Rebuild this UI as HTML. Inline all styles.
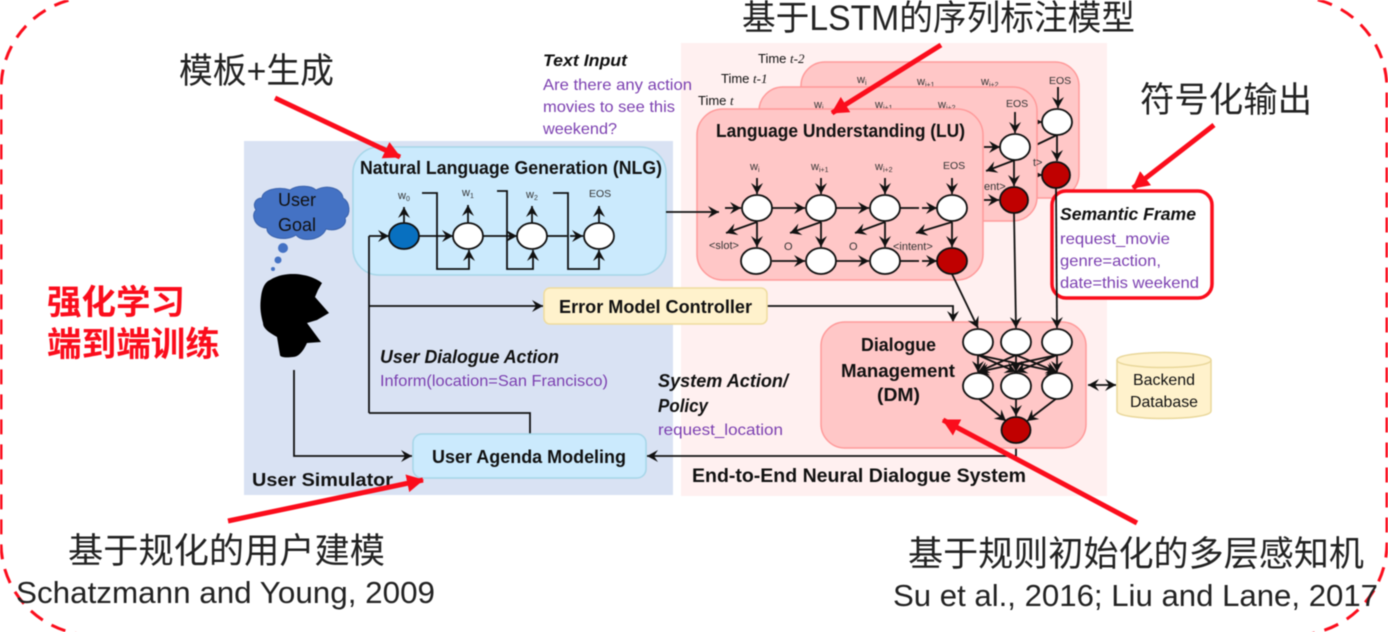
<!DOCTYPE html>
<html><head><meta charset="utf-8">
<style>
html,body{margin:0;padding:0;background:#fff;width:1388px;height:632px;overflow:hidden}
svg{display:block;filter:blur(0.45px)}
text{font-family:"Liberation Sans","Noto Sans CJK SC",sans-serif;fill:#111}
.b{font-weight:bold}.bi{font-weight:bold;font-style:italic}
.p{fill:#7b3fb0}
.cn{font-size:35px;fill:#222}
.en{font-size:31px;fill:#222}
.s{font-size:11px;fill:#333}
.e{font-size:10.5px;fill:#333}
.l{stroke:#111;stroke-width:1.8;fill:none}
.a{stroke:#111;stroke-width:1.8;fill:none;marker-end:url(#ah)}
.r{stroke:#fb0d1c;stroke-width:5;fill:none;marker-end:url(#rh)}
.n{fill:#fff;stroke:#111;stroke-width:1.8}
.d{fill:#c00000;stroke:#111;stroke-width:1.8}
.box{fill:#ffc7c7;stroke:#ff9a9a;stroke-width:1.5}
</style></head><body>
<svg width="1388" height="632" viewBox="0 0 1388 632" xmlns="http://www.w3.org/2000/svg">
<defs>
<marker id="ah" markerUnits="userSpaceOnUse" markerWidth="14" markerHeight="14" refX="11" refY="6" orient="auto"><path d="M0,0 L11,6 L0,12 L4,6Z" fill="#111"/></marker>
<marker id="as" markerUnits="userSpaceOnUse" markerWidth="14" markerHeight="14" refX="0" refY="6" orient="auto"><path d="M11,0 L0,6 L11,12 L7,6Z" fill="#111"/></marker>
<marker id="rh" markerUnits="userSpaceOnUse" markerWidth="24" markerHeight="24" refX="16" refY="9" orient="auto"><path d="M0,0 L17,9 L0,18Z" fill="#fb0d1c"/></marker>
</defs>

<rect x="1" y="-3" width="1386" height="638" rx="92" ry="92" fill="none" stroke="#fb0d1c" stroke-width="3" stroke-dasharray="15 10"/>

<rect x="244" y="141" width="429" height="354" fill="#d9e2f3"/>
<rect x="681" y="43" width="426" height="453" fill="#fff0f0"/>

<!-- NLG -->
<rect x="353" y="147" width="313" height="128" rx="26" fill="#cbeafd" stroke="#a6d6e8" stroke-width="1.5"/>
<text x="360" y="174" class="b" font-size="18" textLength="302" lengthAdjust="spacingAndGlyphs">Natural Language Generation (NLG)</text>
<path class="l" d="M369,413 V236"/>
<path class="a" d="M369,236 H389"/>
<path class="a" d="M419,236 H453"/>
<path class="a" d="M483,236 H517"/>
<path class="l" d="M547,236 H562" /><path class="l" d="M562,236 H570" stroke-dasharray="5 3"/><path class="a" d="M570,236 H583"/>
<path class="a" d="M422,193 H437 V269 H469 V250"/>
<path class="a" d="M497,191 H507 V269 H533 V250"/>
<path class="a" d="M553,193 H568 V269 H599 V250"/>
<path class="a" d="M404,223 V207"/><path class="a" d="M468,223 V205"/><path class="a" d="M532,223 V206"/><path class="a" d="M599,223 V206"/>
<ellipse cx="404" cy="236" rx="15" ry="13" fill="#0870c0" stroke="#111" stroke-width="1.8"/>
<ellipse class="n" cx="468" cy="236" rx="15" ry="13"/>
<ellipse class="n" cx="532" cy="236" rx="15" ry="13"/>
<ellipse class="n" cx="599" cy="236" rx="15" ry="13"/>
<text x="398" y="199" class="s">w<tspan font-size="7" dy="2">0</tspan></text>
<text x="462" y="196" class="s">w<tspan font-size="7" dy="2">1</tspan></text>
<text x="526" y="198" class="s">w<tspan font-size="7" dy="2">2</tspan></text>
<text x="589" y="197" class="e">EOS</text>

<!-- connectors in user sim -->
<path class="a" d="M369,306 H543"/>
<path class="l" d="M369,413 H530 V434"/>
<path class="a" d="M294,370 V456 H412"/>
<path class="a" d="M1016,443 V456 H647"/>
<path class="a" d="M767,306 H953 V322"/>

<!-- cloud, head -->
<path d="M262,198 C262,190 278,186 290,190 C298,184 312,186 316,190 C326,184 342,188 343,198 C350,202 351,214 345,218 C348,226 336,232 326,229 C322,240 302,243 296,235 C286,242 266,238 267,228 C256,228 250,216 256,210 C252,204 256,198 262,198Z" fill="#4472c4" stroke="#3a62ac" stroke-width="1"/>
<text x="278" y="206" font-size="18" fill="#1a2a50" textLength="38" lengthAdjust="spacingAndGlyphs">User</text>
<text x="278" y="231" font-size="18" fill="#1a2a50" textLength="38" lengthAdjust="spacingAndGlyphs">Goal</text>
<circle cx="283" cy="248" r="5" fill="#4472c4"/><circle cx="278" cy="260" r="3.5" fill="#4472c4"/><circle cx="273" cy="269" r="2" fill="#4472c4"/>
<path d="M293,274 C305,274 316,278 322,283 L318,290 L315,297 L329,313 L317,320 L307,323 L321,342 L307,343 C303,352 298,357 293,357 C285,358 280,357 280,355 L277,337 C268,332 263,328 263,323 C260,312 260,305 261,297 C262,288 265,282 270,280 C278,275 286,274 293,274Z" fill="#000"/>

<!-- Error model, agenda -->
<rect x="544" y="288" width="223" height="36" rx="6" fill="#fff2cc" stroke="#efdc9e" stroke-width="1.5"/>
<text x="559" y="313" class="b" font-size="18" textLength="193" lengthAdjust="spacingAndGlyphs">Error Model Controller</text>
<rect x="413" y="434" width="233" height="44" rx="9" fill="#cbeafd" stroke="#a6d6e8" stroke-width="1.5"/>
<text x="432" y="463" class="b" font-size="18" textLength="194" lengthAdjust="spacingAndGlyphs">User Agenda Modeling</text>
<text x="252" y="486" class="b" font-size="18.5" textLength="141" lengthAdjust="spacingAndGlyphs">User Simulator</text>
<text x="692" y="482" class="b" font-size="19" textLength="334" lengthAdjust="spacingAndGlyphs">End-to-End Neural Dialogue System</text>

<!-- labels -->
<text x="543" y="66" class="bi" font-size="16.5" textLength="84" lengthAdjust="spacingAndGlyphs">Text Input</text>
<text x="543" y="90" class="p" font-size="16" textLength="149" lengthAdjust="spacingAndGlyphs">Are there any action</text>
<text x="543" y="112" class="p" font-size="16" textLength="132" lengthAdjust="spacingAndGlyphs">movies to see this</text>
<text x="543" y="134" class="p" font-size="16" textLength="74" lengthAdjust="spacingAndGlyphs">weekend?</text>
<text x="380" y="363" class="bi" font-size="18.5" textLength="179" lengthAdjust="spacingAndGlyphs">User Dialogue Action</text>
<text x="380" y="386" class="p" font-size="16" textLength="228" lengthAdjust="spacingAndGlyphs">Inform(location=San Francisco)</text>
<text x="658" y="387" class="bi" font-size="18.5" textLength="130" lengthAdjust="spacingAndGlyphs">System Action/</text>
<text x="658" y="412" class="bi" font-size="18.5" textLength="50" lengthAdjust="spacingAndGlyphs">Policy</text>
<text x="658" y="435" class="p" font-size="16" textLength="125" lengthAdjust="spacingAndGlyphs">request_location</text>

<!-- back LU -->
<text x="758" y="63" font-size="13" fill="#333">Time <tspan font-family="Liberation Serif" font-style="italic">t-2</tspan></text>
<rect x="801" y="62" width="278" height="136" rx="24" class="box"/>
<text x="857" y="83" class="s">w<tspan font-size="7" dy="2">i</tspan></text>
<text x="917" y="85" class="s">w<tspan font-size="7" dy="2">i+1</tspan></text>
<text x="981" y="85" class="s">w<tspan font-size="7" dy="2">i+2</tspan></text>
<text x="1049" y="84" class="e">EOS</text>
<path class="a" d="M1058,87 V108"/>
<path class="a" d="M1057,135 V161"/>
<path class="l" d="M1036,145 L1057,135"/>
<path class="a" d="M1040,122 H1042"/><path class="a" d="M1036,175 H1042"/>
<ellipse class="n" cx="1057" cy="122" rx="15" ry="13"/>
<ellipse class="d" cx="1056" cy="175" rx="14" ry="13"/>

<!-- middle LU -->
<text x="721" y="83" font-size="13" fill="#333">Time <tspan font-family="Liberation Serif" font-style="italic">t-1</tspan></text>
<rect x="759" y="87" width="278" height="134" rx="24" class="box"/>
<text x="814" y="108" class="s">w<tspan font-size="7" dy="2">i</tspan></text>
<text x="875" y="108" class="s">w<tspan font-size="7" dy="2">i+1</tspan></text>
<text x="938" y="108" class="s">w<tspan font-size="7" dy="2">i+2</tspan></text>
<text x="1006" y="107" class="e">EOS</text>
<text x="1033" y="166" class="s">t&gt;</text>
<text x="984" y="190" class="s" >ent&gt;</text>
<path class="a" d="M1015,112 V133"/>
<path class="a" d="M1014,160 V186"/>
<path class="a" d="M1015,160 L986,171"/>
<path class="a" d="M984,147 H1000"/>
<path class="a" d="M984,200 H999"/>
<ellipse class="n" cx="1015" cy="147" rx="15" ry="13"/>
<ellipse class="d" cx="1014" cy="200" rx="14" ry="13"/>

<!-- front LU -->
<text x="698" y="105" font-size="13" fill="#333">Time <tspan font-family="Liberation Serif" font-style="italic">t</tspan></text>
<rect x="697" y="109" width="286" height="171" rx="26" class="box"/>
<path class="a" d="M666,212 H719"/>
<text x="716" y="137" class="b" font-size="18.5" textLength="249" lengthAdjust="spacingAndGlyphs">Language Understanding (LU)</text>
<text x="750" y="170" class="s">w<tspan font-size="7" dy="2">i</tspan></text>
<text x="811" y="170" class="s">w<tspan font-size="7" dy="2">i+1</tspan></text>
<text x="875" y="170" class="s">w<tspan font-size="7" dy="2">i+2</tspan></text>
<text x="943" y="169" class="e">EOS</text>
<text x="709" y="249" class="s">&lt;slot&gt;</text>
<text x="784" y="250" class="s">O</text>
<text x="849" y="250" class="s">O</text>
<text x="893" y="250" class="s">&lt;intent&gt;</text>
<path class="a" d="M757,178 V194"/><path class="a" d="M821,178 V194"/><path class="a" d="M885,178 V194"/><path class="a" d="M952,178 V194"/>
<path class="a" d="M725,208 H741"/>
<path class="a" d="M772,208 H805"/>
<path class="a" d="M836,208 H869"/>
<path class="l" d="M900,208 H914"/><path class="l" d="M914,208 H924" stroke-dasharray="5 3"/><path class="a" d="M924,208 H937"/>
<path class="a" d="M757,222 V247"/><path class="a" d="M821,222 V247"/><path class="a" d="M885,222 V247"/><path class="a" d="M952,222 V247"/>
<path class="a" d="M757,222 L726,233"/><path class="a" d="M821,222 L790,233"/><path class="a" d="M885,222 L855,233"/><path class="a" d="M952,222 L916,233"/>
<path class="a" d="M772,261 H805"/><path class="a" d="M836,261 H869"/>
<path class="l" d="M900,261 H914"/><path class="l" d="M914,261 H924" stroke-dasharray="5 3"/><path class="a" d="M924,261 H937"/>
<ellipse class="n" cx="757" cy="208" rx="15" ry="13"/><ellipse class="n" cx="821" cy="208" rx="15" ry="13"/><ellipse class="n" cx="885" cy="208" rx="15" ry="13"/><ellipse class="n" cx="952" cy="208" rx="15" ry="13"/>
<ellipse class="n" cx="756" cy="261" rx="15" ry="13"/><ellipse class="n" cx="821" cy="261" rx="15" ry="13"/><ellipse class="n" cx="885" cy="261" rx="15" ry="13"/>
<ellipse class="d" cx="952" cy="261" rx="15" ry="13"/>

<!-- DM -->
<rect x="821" y="322" width="265" height="126" rx="24" class="box"/>
<path class="a" d="M952,274 L978,328"/>
<path class="a" d="M1014,213 L1016,328"/>
<text x="861" y="351" class="b" font-size="18" textLength="75" lengthAdjust="spacingAndGlyphs">Dialogue</text>
<text x="841" y="377" class="b" font-size="18" textLength="114" lengthAdjust="spacingAndGlyphs">Management</text>
<text x="877" y="401" class="b" font-size="18" textLength="43" lengthAdjust="spacingAndGlyphs">(DM)</text>
<path class="a" d="M978,355 V372"/><path class="a" d="M1016,355 V372"/><path class="a" d="M1057,355 V372"/>
<path class="a" d="M978,355 L1016,372"/><path class="a" d="M978,355 L1057,372"/>
<path class="a" d="M1016,355 L978,372"/><path class="a" d="M1016,355 L1057,372"/>
<path class="a" d="M1057,355 L978,372"/><path class="a" d="M1057,355 L1016,372"/>
<path class="a" d="M978,398 L1006,421"/><path class="a" d="M1016,399 V416"/><path class="a" d="M1057,398 L1027,421"/>
<ellipse class="n" cx="978" cy="342" rx="15" ry="13"/><ellipse class="n" cx="1016" cy="342" rx="15" ry="13"/><ellipse class="n" cx="1057" cy="342" rx="15" ry="13"/>
<ellipse class="n" cx="978" cy="386" rx="15" ry="13"/><ellipse class="n" cx="1016" cy="386" rx="15" ry="13"/><ellipse class="n" cx="1057" cy="386" rx="15" ry="13"/>
<ellipse class="d" cx="1016" cy="430" rx="14.5" ry="13"/>
<path d="M1088,385 H1116" stroke="#111" stroke-width="1.8" marker-end="url(#ah)" marker-start="url(#as)"/>

<!-- Backend -->
<path d="M1117,360 C1117,350 1211,350 1211,360 V411 C1211,421 1117,421 1117,411Z" fill="#fff2cc" stroke="#e9d79a" stroke-width="1.5"/>
<path d="M1117,360 C1117,370 1211,370 1211,360" fill="none" stroke="#e9d79a" stroke-width="1.5"/>
<text x="1133" y="385" font-size="16" fill="#333" textLength="62" lengthAdjust="spacingAndGlyphs">Backend</text>
<text x="1130" y="407" font-size="16" fill="#333" textLength="68" lengthAdjust="spacingAndGlyphs">Database</text>

<!-- Semantic frame -->
<rect x="1052" y="191" width="160" height="107" rx="14" fill="#fff" stroke="#fb0d1c" stroke-width="3.5"/>
<path class="a" d="M1056,188 L1057,328"/>
<text x="1060" y="220" class="bi" font-size="17.5" textLength="136" lengthAdjust="spacingAndGlyphs">Semantic Frame</text>
<text x="1060" y="244" class="p" font-size="16" textLength="110" lengthAdjust="spacingAndGlyphs">request_movie</text>
<text x="1060" y="266" class="p" font-size="16" textLength="101" lengthAdjust="spacingAndGlyphs">genre=action,</text>
<text x="1060" y="288" class="p" font-size="16" textLength="139" lengthAdjust="spacingAndGlyphs">date=this weekend</text>

<!-- Chinese annotations -->
<text x="742" y="30" class="cn" textLength="393" lengthAdjust="spacingAndGlyphs">基于LSTM的序列标注模型</text>
<text x="179" y="83" class="cn" textLength="155" lengthAdjust="spacingAndGlyphs">模板+生成</text>
<text x="1140" y="112" class="cn" textLength="172" lengthAdjust="spacingAndGlyphs">符号化输出</text>
<text x="47" y="314" font-size="34" font-weight="bold" style="fill:#fb0d1c" textLength="138" lengthAdjust="spacingAndGlyphs">强化学习</text>
<text x="47" y="356" font-size="34" font-weight="bold" style="fill:#fb0d1c" textLength="173" lengthAdjust="spacingAndGlyphs">端到端训练</text>
<text x="68" y="563" class="cn" textLength="317" lengthAdjust="spacingAndGlyphs">基于规化的用户建模</text>
<text x="16" y="603" class="en" textLength="419" lengthAdjust="spacingAndGlyphs">Schatzmann and Young, 2009</text>
<text x="908" y="566" class="cn" textLength="456" lengthAdjust="spacingAndGlyphs">基于规则初始化的多层感知机</text>
<text x="893" y="606" class="en" textLength="485" lengthAdjust="spacingAndGlyphs">Su et al., 2016; Liu and Lane, 2017</text>

<!-- Red arrows -->
<path class="r" d="M275,98 L400,157"/>
<path class="r" d="M941,45 L832,113"/>
<path class="r" d="M1214,125 L1133,188"/>
<path class="r" d="M228,521 L423,480"/>
<path class="r" d="M1137,523 L943,420"/>
</svg>
</body></html>
